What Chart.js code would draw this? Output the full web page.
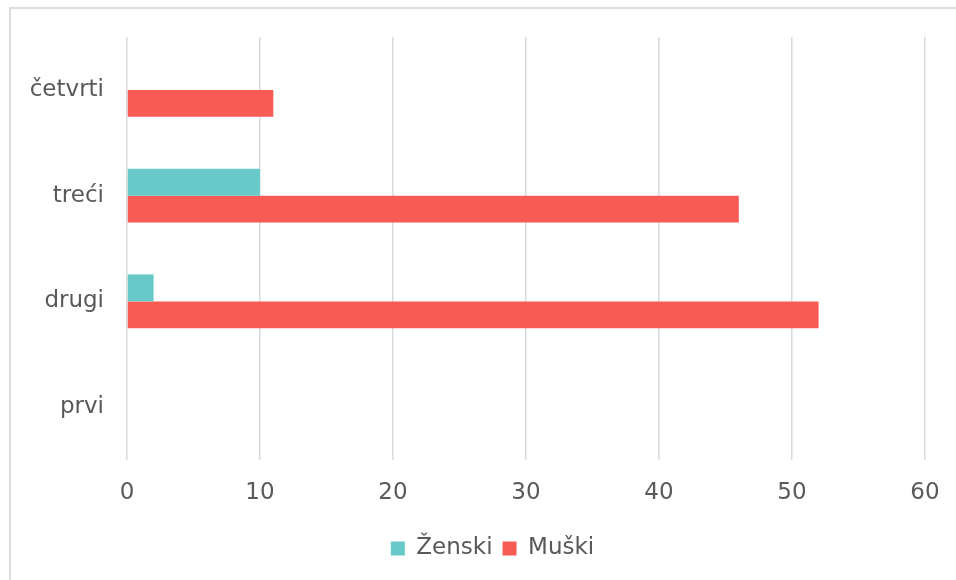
<!DOCTYPE html>
<html>
<head>
<meta charset="utf-8">
<script src="https://cdn.jsdelivr.net/npm/chart.js@4/dist/chart.umd.min.js"></script>
<style>
  html, body { margin: 0; padding: 0; background: #fff; overflow: hidden; }
  #wrap { position: relative; width: 956px; height: 580px; }
  #frame { position: absolute; left: 9px; top: 7px; width: 960px; height: 590px; border: 2px solid #dcdcdc; box-sizing: border-box; pointer-events: none; }
  canvas { position: absolute; left: 0; top: 0; }
</style>
</head>
<body>
<div id="wrap">
  <canvas id="c" width="956" height="580"></canvas>
  <div id="frame"></div>
</div>
<script>
const categories = ['prvi', 'drugi', 'treći', 'četvrti'];
const zenski = [0, 2, 10, 0];
const muski = [0, 52, 46, 11];
const xTicks = [0, 10, 20, 30, 40, 50, 60];
const seriesNames = ['Ženski', 'Muški'];

const textColor = '#595959';
const fontFamily = '"DejaVu Sans", Verdana, sans-serif';

const shiftLegend = {
  id: 'shiftLegend',
  afterLayout(chart) {
    if (chart.legend) {
      chart.legend.left += 30;
      chart.legend.right += 30;
    }
  }
};

new Chart(document.getElementById('c'), {
  type: 'bar',
  data: {
    labels: categories,
    datasets: [
      { label: seriesNames[0], data: zenski, backgroundColor: '#69C8C8', borderWidth: 0 },
      { label: seriesNames[1], data: muski, backgroundColor: '#F85A54', borderWidth: 0 }
    ]
  },
  plugins: [shiftLegend],
  options: {
    indexAxis: 'y',
    responsive: false,
    animation: false,
    categoryPercentage: 0.51,
    barPercentage: 1.0,
    layout: { padding: { top: 37, right: 31, bottom: 10, left: 0 } },
    scales: {
      x: {
        min: xTicks[0],
        max: xTicks[xTicks.length - 1],
        afterBuildTicks: (axis) => { axis.ticks = xTicks.map(v => ({ value: v })); },
        grid: { display: true, color: '#d9d9d9', lineWidth: 1.5, drawTicks: false },
        border: { display: false },
        ticks: { color: textColor, font: { family: fontFamily, size: 23 }, padding: 19 },
        afterFit: (axis) => { axis.height = 67; axis.paddingRight = 0; axis.paddingLeft = 0; }
      },
      y: {
        reverse: true,
        grid: { display: false, drawTicks: false },
        border: { display: false },
        ticks: { color: textColor, font: { family: fontFamily, size: 23 }, padding: 23 },
        afterFit: (axis) => { axis.width = 127; }
      }
    },
    plugins: {
      legend: {
        position: 'bottom',
        labels: {
          color: textColor,
          font: { family: fontFamily, size: 23 },
          boxWidth: 14,
          boxHeight: 14,
          padding: 10
        }
      },
      tooltip: { enabled: false }
    }
  }
});
</script>
</body>
</html>
